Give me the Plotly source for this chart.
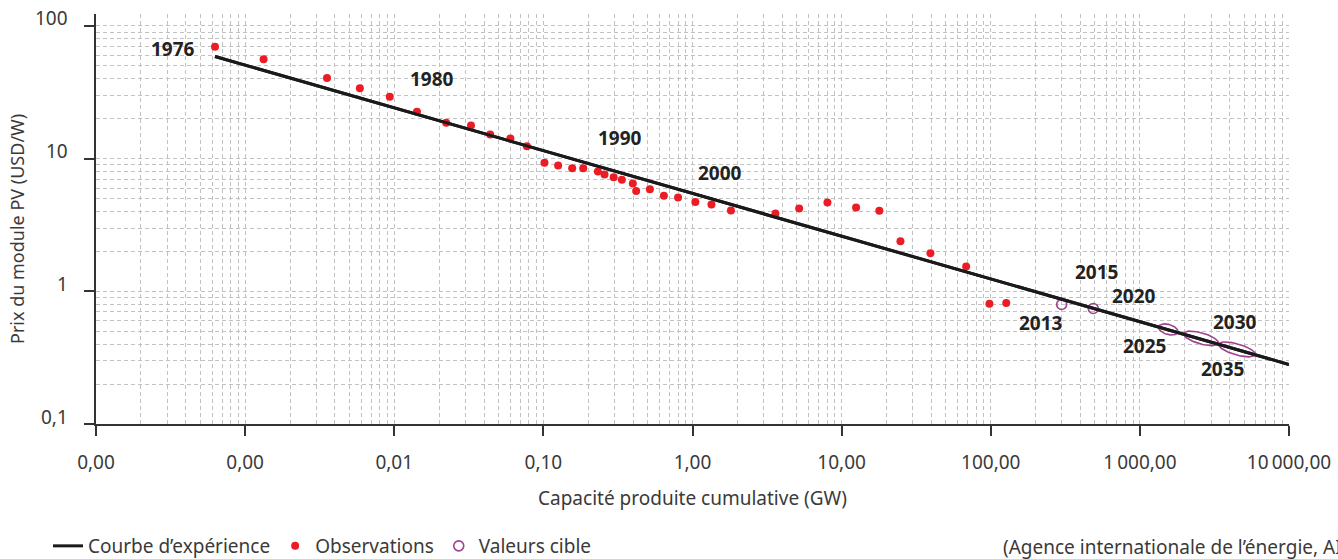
import math
import numpy as np
import plotly.graph_objects as go

# ---------------- data ----------------
# Experience curve (cumulative capacity GW, module price USD/W)
curve_cap = [6.28e-4, 1.0e4]
curve_price = [58.9, 0.281]

# Observations
obs_cap = [6.28e-4, 1.33e-3, 3.54e-3, 5.88e-3, 9.33e-3, 0.0142, 0.0223, 0.0327,
           0.0440, 0.0601, 0.0775, 0.1017, 0.1256, 0.156, 0.185, 0.232, 0.257,
           0.296, 0.336, 0.398, 0.419, 0.518, 0.643, 0.800, 1.045, 1.34, 1.81,
           3.60, 5.19, 8.03, 12.5, 17.9, 24.8, 39.4, 68.4, 98.0, 127.0]
obs_price = [69.8, 56.1, 40.5, 33.9, 29.3, 22.6, 18.6, 17.8,
             15.2, 14.2, 12.4, 9.30, 8.89, 8.48, 8.48, 8.00, 7.60,
             7.25, 6.92, 6.50, 5.69, 5.89, 5.24, 5.10, 4.72, 4.51, 4.06,
             3.86, 4.21, 4.67, 4.28, 4.04, 2.38, 1.94, 1.54, 0.807, 0.817]

# Target values (small circles)
target_cap = [299.0, 487.0]
target_price = [0.796, 0.743]

# Target ranges drawn as ellipses (centre)
range_cap = [1550.0, 2570.0, 4480.0]
range_price = [0.516, 0.442, 0.365]

# Year labels
label_text = ["1976", "1980", "1990", "2000", "2013", "2015", "2020", "2025", "2030", "2035"]
label_cap = [3.3e-4, 0.0178, 0.327, 1.54, 217.0, 508.0, 910.0, 1081.0, 4345.0, 3556.0]
label_price = [67.5, 40.0, 14.35, 7.82, 0.573, 1.39, 0.923, 0.387, 0.583, 0.262]

# Axis ticks
x_tickvals = [1e-4, 1e-3, 1e-2, 1e-1, 1, 10, 100, 1000, 10000]
x_ticktext = ["0,00", "0,00", "0,01", "0,10", "1,00", "10,00", "100,00",
              "1\u2009000,00", "10\u2009000,00"]
y_tickvals = [0.1, 1, 10, 100]
y_ticktext = ["0,1", "1", "10", "100"]

# ---------------- style ----------------
W, H = 1338, 559
M = dict(l=96, r=49, t=14, b=135, autoexpand=False)
X_RANGE = [-4, 4]
Y_RANGE = [-1, 2.09]
FONT = "Noto Sans"
TXT = "#3a3a3a"
RED = "#ec1c24"
PURPLE = "#a0418f"
GRID = "#c2c2c2"
GRID_DASH = "4px,3px"

PW = W - M["l"] - M["r"]
PH = H - M["t"] - M["b"]

# ellipse semi-axes in pixels (major along curve, minor)
ell_a = [10, 18, 19]
ell_b = [5, 5.5, 5.5]

px_per_dec_x = PW / (X_RANGE[1] - X_RANGE[0])
px_per_dec_y = PH / (Y_RANGE[1] - Y_RANGE[0])
slope_log = (math.log10(curve_price[1]) - math.log10(curve_price[0])) / \
            (math.log10(curve_cap[1]) - math.log10(curve_cap[0]))
theta = math.atan(-slope_log * px_per_dec_y / px_per_dec_x)

fig = go.Figure()

fig.add_trace(go.Scatter(
    x=curve_cap, y=curve_price, mode="lines", name="Courbe d’expérience",
    line=dict(color="#1a1a1a", width=3)))

fig.add_trace(go.Scatter(
    x=obs_cap, y=obs_price, mode="markers", name="Observations",
    marker=dict(color=RED, size=8)))

fig.add_trace(go.Scatter(
    x=target_cap, y=target_price, mode="markers", name="Valeurs cible",
    marker=dict(symbol="circle-open", color=PURPLE, size=10, line=dict(width=1.6))))

t = np.linspace(0, 2 * np.pi, 73)
for cx, cy, a, b in zip(range_cap, range_price, ell_a, ell_b):
    u = a * np.cos(t)
    v = b * np.sin(t)
    offx = u * math.cos(theta) + v * math.sin(theta)
    offy = -u * math.sin(theta) + v * math.cos(theta)
    ex = 10 ** (math.log10(cx) + offx / px_per_dec_x)
    ey = 10 ** (math.log10(cy) + offy / px_per_dec_y)
    fig.add_trace(go.Scatter(x=ex, y=ey, mode="lines", showlegend=False,
                             hoverinfo="skip", line=dict(color=PURPLE, width=1.6)))

# Redraw curve on top of ellipses (as in original)
fig.add_trace(go.Scatter(
    x=curve_cap, y=curve_price, mode="lines", showlegend=False, hoverinfo="skip",
    line=dict(color="#1a1a1a", width=3)))

for txt, cx, cy in zip(label_text, label_cap, label_price):
    fig.add_annotation(x=math.log10(cx), y=math.log10(cy), text=txt, showarrow=False,
                       xref="x", yref="y", xanchor="center", yanchor="middle",
                       font=dict(family=FONT, size=19, color="#222222", weight="bold"))

# y tick labels sit just above their tick (baseline on the tick)
for val, txt in zip(y_tickvals, y_ticktext):
    fig.add_annotation(xref="paper", yref="y", x=(70 - M["l"]) / PW, y=math.log10(val),
                       text=txt, showarrow=False, xanchor="right", yanchor="middle",
                       yshift=7.5, font=dict(family=FONT, size=19, color=TXT))

fig.add_annotation(xref="paper", yref="paper", x=(17 - M["l"]) / PW,
                   y=(H - M["b"] - 229) / PH,
                   text="Prix du module PV (USD/W)", textangle=-90, showarrow=False,
                   xanchor="center", yanchor="middle",
                   font=dict(family=FONT, size=18, color=TXT))

fig.add_annotation(xref="paper", yref="paper", x=(1001 - M["l"]) / PW,
                   y=(H - M["b"] - 547) / PH,
                   text="(Agence internationale de l’énergie, AIE)", showarrow=False,
                   xanchor="left", yanchor="middle",
                   font=dict(family=FONT, size=19, color=TXT))

axis_common = dict(
    type="log", showline=True, linecolor="#333333", linewidth=1.5,
    ticks="outside", ticklen=10, tickcolor="#333333", tickwidth=1.5,
    showgrid=True, gridcolor=GRID, griddash=GRID_DASH, gridwidth=1,
    minor=dict(showgrid=True, gridcolor=GRID, griddash=GRID_DASH, gridwidth=1,
               dtick="D1", ticks=""),
    tickfont=dict(family=FONT, size=19, color=TXT), zeroline=False,
)

fig.update_xaxes(**axis_common, range=X_RANGE, tickvals=x_tickvals, ticktext=x_ticktext,
                 ticklabelstandoff=10,
                 title=dict(text="Capacité produite cumulative (GW)", standoff=18,
                            font=dict(family=FONT, size=19, color=TXT)))
fig.update_yaxes(**axis_common, range=Y_RANGE, tickvals=y_tickvals, showticklabels=False)

fig.update_layout(
    width=W, height=H, margin=M, paper_bgcolor="white", plot_bgcolor="white",
    font=dict(family=FONT, color=TXT),
    legend=dict(orientation="h", x=(48 - M["l"]) / PW,
                y=(H - M["b"] - 546) / PH,
                xanchor="left", yanchor="middle",
                font=dict(family=FONT, size=19, color=TXT), itemwidth=30,
                bgcolor="rgba(0,0,0,0)"),
    showlegend=True,
)

fig.write_html("out.html")
